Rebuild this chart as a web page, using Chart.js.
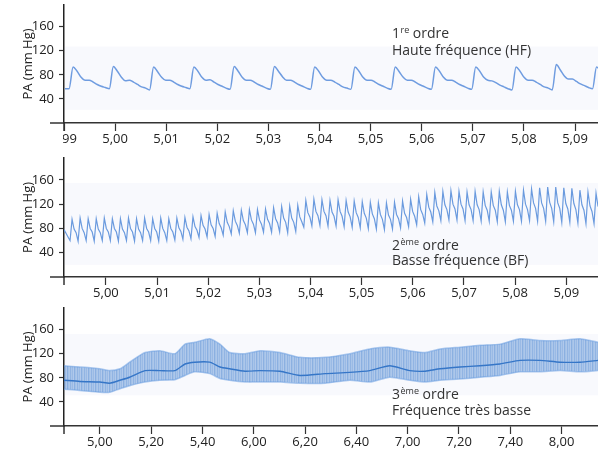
<!DOCTYPE html>
<html><head><meta charset="utf-8">
<script src="https://cdn.jsdelivr.net/npm/chart.js@4.4.1/dist/chart.umd.min.js"></script>
<style>
html,body{margin:0;padding:0;background:#fff;}
#wrap{position:relative;width:598px;height:462px;overflow:hidden;background:#fff}
canvas{position:absolute;left:0}
</style></head><body>
<div id="wrap">
<canvas id="c1" style="top:0px" width="598" height="150"></canvas>
<canvas id="c2" style="top:150px" width="598" height="150"></canvas>
<canvas id="c3" style="top:300px" width="598" height="162"></canvas>
</div>
<script>
// ---------- DATA ----------
const yTitle = 'PA (mm Hg)';
const yTicks = [40, 80, 120, 160];

// Panel 1 : 1re ordre – haute fréquence
const ticks1 = ['4,99','5,00','5,01','5,02','5,03','5,04','5,05','5,06','5,07','5,08','5,09'];
const xRange1 = [4.99, 5.0945];
const start1 = 4.9902, step1 = 0.000788;
const pa1 = [57,57,
 93,86,76,71,71,68,64,61,59,57,
 94,86,76,70,71,68,64,60,58,55,
 93,85,76,71,71,68,64,61,59,57,
 93,86,76,71,72,68,64,61,58,56,
 94,86,76,71,71,68,64,61,58,56,
 94,86,77,71,71,68,64,61,58,56,
 93,86,76,71,71,68,64,60,58,56,
 93,86,76,71,71,68,64,61,58,56,
 93,85,76,71,71,68,64,61,58,56,
 93,86,76,71,71,68,64,61,58,56,
 93,86,76,71,70,67,63,60,57,55,
 93,86,76,71,71,68,64,60,58,55,
 97,88,78,73,73,69,65,62,59,57,
 93,86];
const band1 = [22, 127];
const notes1 = ['1', 're', ' ordre', 'Haute fréquence (HF)'];

// Panel 2 : 2ème ordre – basse fréquence
const ticks2 = ['5,00','5,01','5,02','5,03','5,04','5,05','5,06','5,07','5,08','5,09'];
const xRange2 = [4.9918, 5.0962];
const start2 = 4.9918, step2 = 0.000394;
const pa2 = [78,72,66,
 60,95,79,73, 59,97,80,73, 60,96,80,74, 59,96,79,73, 60,97,80,74,
 60,96,80,74, 59,96,79,73, 60,97,80,74, 59,96,79,73, 60,97,80,74,
 60,96,80,74, 59,97,80,73, 60,96,80,74, 61,97,81,75, 62,98,82,76,
 63,99,83,77, 65,101,85,79, 66,103,86,80, 67,105,88,81, 69,107,90,83,
 71,109,92,85, 72,110,93,86, 73,111,94,87, 73,111,94,87, 74,112,95,88,
 74,114,96,89, 74,116,97,90, 73,117,97,90, 75,118,99,91, 82,126,106,99,
 84,128,108,101, 85,127,108,101, 84,126,107,100, 84,127,108,100, 83,126,107,99,
 82,125,106,98, 81,124,105,97, 80,123,104,96, 79,122,103,95, 78,122,102,95,
 79,123,103,96, 81,125,105,98, 83,128,108,100, 86,132,111,103, 89,136,115,107,
 91,139,117,109, 93,141,119,111, 94,142,120,112, 94,141,120,112, 93,140,119,111,
 93,141,119,111, 92,140,118,110, 92,140,118,110, 91,141,119,110, 91,140,118,110,
 92,141,119,111, 92,143,120,111, 93,145,122,113, 92,147,122,113, 92,148,123,113,
 91,148,122,113, 90,147,121,112, 90,146,121,111, 89,143,119,110, 88,140,117,108,
 88,138,116,107];
const band2 = [20, 155];
const notes2 = ['2', 'ème', ' ordre', 'Basse fréquence (BF)'];

// Panel 3 : 3ème ordre – fréquence très basse (positions in tick-index units)
const ticks3 = ['5,00','5,20','5,40','6,00','6,20','6,40','7,00','7,20','7,40','8,00'];
const xRange3 = [-0.70, 9.71];
const t3 = [-0.70,-0.39,0,0.19,0.39,0.58,0.88,1.17,1.46,1.66,1.85,2.14,2.34,2.53,2.83,3.12,3.51,3.90,4.39,4.87,5.26,5.65,6.04,6.34,6.63,7.02,7.41,7.80,8.19,8.58,8.97,9.36,9.71];
const upper3 = [100,98,95,92,95,106,122,125,120,136,139,145,136,122,120,125,122,114,114,120,128,131,125,122,128,131,134,136,145,142,142,145,139];
const lower3 = [61,59,56,56,62,67,73,76,77,84,90,87,79,76,73,73,73,71,71,76,73,81,76,73,76,78,81,84,90,90,92,90,92];
const mean3  = [76,74,73,71,76,81,92,92,92,103,106,106,98,95,91,92,91,84,87,89,92,100,92,91,95,98,100,103,109,109,106,106,109];
const band3 = [51, 153];
const notes3 = ['3', 'ème', ' ordre', 'Fréquence très basse'];

// ---------- RENDERING ----------
Chart.defaults.font.family = "'Open Sans', 'Noto Sans', sans-serif";
Chart.defaults.font.size = 13;
Chart.defaults.color = '#222';

const FONT = "'Open Sans', 'Noto Sans', sans-serif";
const deco = {
  id: 'deco',
  beforeDatasetsDraw(chart, args, o) {
    const {ctx, chartArea: a, scales: {y}} = chart;
    ctx.save();
    ctx.fillStyle = o.bandColor;
    const t = y.getPixelForValue(o.band[1]), b = y.getPixelForValue(o.band[0]);
    ctx.fillRect(a.left + 1, t, a.right - a.left - 1, b - t);
    ctx.restore();
  },
  afterDraw(chart, args, o) {
    const {ctx, chartArea: a} = chart;
    ctx.save();
    if (o.clipLeft) {
      ctx.fillStyle = '#fff';
      ctx.fillRect(0, a.bottom + 2, a.left - 1, chart.height);
    }
    ctx.strokeStyle = '#333';
    ctx.lineWidth = 1.5;
    ctx.beginPath();
    ctx.moveTo(o.axisStart, a.bottom); ctx.lineTo(a.left, a.bottom);
    ctx.moveTo(a.left, a.bottom); ctx.lineTo(a.left, a.bottom + 8);
    ctx.stroke();
    // annotation
    const n = o.note, txt = o.texts;
    ctx.fillStyle = '#333';
    ctx.textBaseline = 'alphabetic';
    ctx.textAlign = 'left';
    let x = n.x;
    ctx.font = n.size + 'px ' + FONT;
    ctx.fillText(txt[0], x, n.y1); x += ctx.measureText(txt[0]).width + 0.5;
    ctx.font = n.supSize + 'px ' + FONT;
    ctx.fillText(txt[1], x, n.y1 - n.supRaise); x += ctx.measureText(txt[1]).width;
    ctx.font = n.size + 'px ' + FONT;
    ctx.fillText(txt[2], x, n.y1);
    ctx.fillText(txt[3], n.x, n.y2);
    ctx.restore();
  }
};

function makeChart(id, H, top, bottom, xr, tickLabels, tickVals, datasets, band, texts, note, clipLeft) {
  return new Chart(document.getElementById(id), {
    type: 'line',
    data: {datasets},
    options: {
      responsive: false, animation: false, devicePixelRatio: 1,
      layout: {padding: {top: top, left: 0, right: 0, bottom: 0}},
      plugins: {legend: {display: false}, tooltip: {enabled: false},
        deco: {band, bandColor: '#f8f9fd', axisStart: 50, clipLeft, texts, note}},
      elements: {point: {radius: 0}},
      scales: {
        x: {
          type: 'linear', min: xr[0], max: xr[1],
          afterBuildTicks: s => { s.ticks = tickVals.map(v => ({value: v})); },
          afterFit: s => { s.height = H - bottom; s.paddingLeft = 0; s.paddingRight = 0; },
          grid: {drawOnChartArea: false, drawTicks: true, tickLength: 8, tickColor: '#333', tickWidth: 1.2},
          border: {display: true, color: '#333', width: 1.5},
          ticks: {callback: (v, i) => tickLabels[i], maxRotation: 0, minRotation: 0, autoSkip: false, padding: 0, color: '#222', font: {size: 13}}
        },
        y: {
          min: 0, max: 196,
          afterBuildTicks: s => { s.ticks = yTicks.map(v => ({value: v})); },
          afterFit: s => { s.width = 64; s.paddingTop = 0; s.paddingBottom = 0; },
          grid: {drawOnChartArea: false, drawTicks: true, tickLength: 5, tickColor: '#333', tickWidth: 1.2},
          border: {display: true, color: '#222', width: 1.5},
          ticks: {color: '#222', font: {size: 13}, padding: 5},
          title: {display: true, text: yTitle, color: '#222', font: {size: 13}, padding: {top: 20, bottom: 0}}
        }
      }
    },
    plugins: [deco]
  });
}

const toVal = s => parseFloat(s.replace(',', '.'));
const series = (arr, start, step) => arr.map((v, i) => ({x: start + i * step, y: v}));

// Panel 1
makeChart('c1', 150, 5, 123, xRange1, ticks1, ticks1.map(toVal),
  [{data: series(pa1, start1, step1), borderColor: '#6f9ce0', borderWidth: 1.5, cubicInterpolationMode: 'monotone', fill: false}],
  band1, notes1, {x: 392, y1: 37.5, y2: 55, size: 14, supSize: 9, supRaise: 5}, true);

// Panel 2
makeChart('c2', 150, 8, 127, xRange2, ticks2, ticks2.map(toVal),
  [{data: series(pa2, start2, step2), borderColor: '#6a9ade', borderWidth: 1.2, fill: false}],
  band2, notes2, {x: 392, y1: 99.5, y2: 115, size: 14, supSize: 9, supRaise: 5}, false);

// Panel 3
const pc = document.createElement('canvas'); pc.width = 7; pc.height = 1;
const pctx = pc.getContext('2d');
[0.55, 0.42, 0.50, 0.38, 0.58, 0.45, 0.40].forEach((a, i) => { pctx.fillStyle = `rgba(60,124,205,${a})`; pctx.fillRect(i, 0, 1, 1); });
const pattern = pctx.createPattern(pc, 'repeat');
const pts = arr => arr.map((v, i) => ({x: t3[i], y: v}));
makeChart('c3', 162, 8, 126, xRange3, ticks3, ticks3.map((s, i) => i),
  [
    {data: pts(lower3), borderColor: 'rgba(110,160,225,0.55)', borderWidth: 1.5, fill: false, tension: 0.2},
    {data: pts(upper3), borderColor: 'rgba(110,160,225,0.55)', borderWidth: 1.5, fill: '-1', backgroundColor: pattern, tension: 0.2},
    {data: pts(mean3), borderColor: '#2f70c2', borderWidth: 1.4, fill: false, tension: 0.2}
  ],
  band3, notes3, {x: 392, y1: 99, y2: 114.5, size: 14, supSize: 9, supRaise: 5}, false);
</script>
</body></html>
